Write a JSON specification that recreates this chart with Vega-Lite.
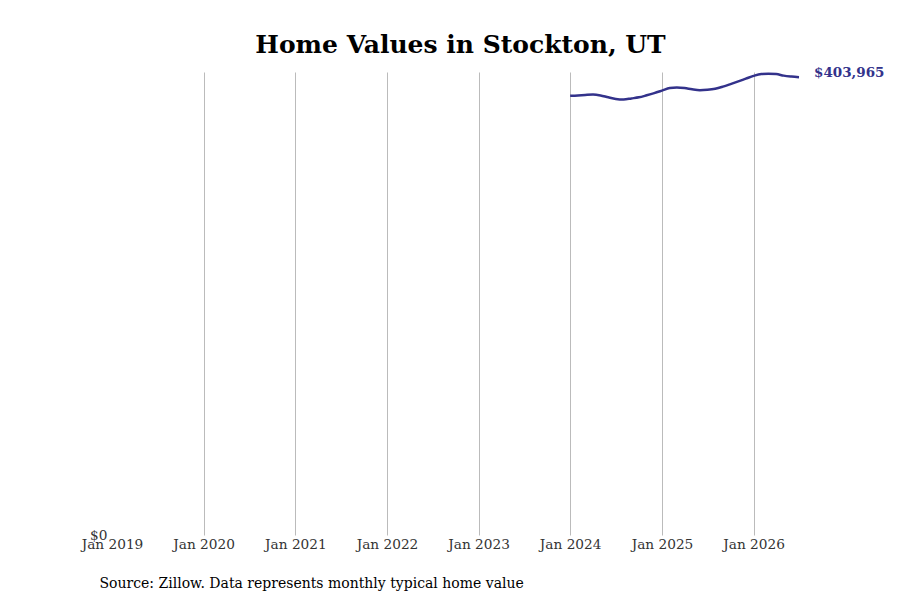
{
  "$schema": "https://vega.github.io/schema/vega-lite/v6.json",
  "autosize": "none",
  "width": 687,
  "height": 463,
  "padding": {"left": 112, "top": 72, "right": 101, "bottom": 65},
  "background": "white",
  "config": {
    "view": {"stroke": null},
    "font": "DejaVu Serif"
  },
  "title": {
    "text": "Home Values in Stockton, UT",
    "font": "DejaVu Serif",
    "fontSize": 25,
    "fontWeight": "bold",
    "color": "black",
    "anchor": "middle",
    "dx": 5,
    "offset": 8
  },
  "data": {
    "values": [
      {"date": "2024-01-01", "value": 387500},
      {"date": "2024-02-01", "value": 387850},
      {"date": "2024-03-01", "value": 388300},
      {"date": "2024-04-01", "value": 388650},
      {"date": "2024-05-01", "value": 387850},
      {"date": "2024-06-01", "value": 386150},
      {"date": "2024-07-01", "value": 384750},
      {"date": "2024-08-01", "value": 384300},
      {"date": "2024-09-01", "value": 385200},
      {"date": "2024-10-01", "value": 386150},
      {"date": "2024-11-01", "value": 387950},
      {"date": "2024-12-01", "value": 389850},
      {"date": "2025-01-01", "value": 392050},
      {"date": "2025-02-01", "value": 394300},
      {"date": "2025-03-01", "value": 394800},
      {"date": "2025-04-01", "value": 394300},
      {"date": "2025-05-01", "value": 393200},
      {"date": "2025-06-01", "value": 392500},
      {"date": "2025-07-01", "value": 392850},
      {"date": "2025-08-01", "value": 393750},
      {"date": "2025-09-01", "value": 395600},
      {"date": "2025-10-01", "value": 397800},
      {"date": "2025-11-01", "value": 400200},
      {"date": "2025-12-01", "value": 402600},
      {"date": "2026-01-01", "value": 405050},
      {"date": "2026-02-01", "value": 406650},
      {"date": "2026-03-01", "value": 406900},
      {"date": "2026-04-01", "value": 406650},
      {"date": "2026-05-01", "value": 405300},
      {"date": "2026-06-01", "value": 404500},
      {"date": "2026-07-01", "value": 403965}
    ]
  },
  "encoding": {
    "x": {
      "field": "date",
      "type": "temporal",
      "scale": {"domain": ["2019-01-01", "2026-07-01"], "nice": false},
      "axis": {
        "values": ["2019-01-01", "2020-01-01", "2021-01-01", "2022-01-01", "2023-01-01", "2024-01-01", "2025-01-01", "2026-01-01"],
        "format": "%b %Y",
        "labelFont": "DejaVu Serif",
        "labelFontSize": 13.7,
        "labelColor": "#333333",
        "labelPadding": 2,
        "labelFlush": false,
        "labelOverlap": false,
        "domain": false,
        "ticks": false,
        "grid": true,
        "gridColor": "#bbbbbb",
        "gridOpacity": {"condition": {"test": "year(datum.value) == 2019", "value": 0}, "value": 1},
        "title": "Source: Zillow. Data represents monthly typical home value",
        "titleFont": "DejaVu Serif",
        "titleFontSize": 14,
        "titleFontWeight": "normal",
        "titleColor": "black",
        "titleAnchor": "start",
        "titleAlign": "left",
        "titleX": -13,
        "titleY": 41
      }
    },
    "y": {
      "field": "value",
      "type": "quantitative",
      "scale": {"domain": [0, 408500], "nice": false},
      "axis": {
        "values": [0],
        "format": "$,.0f",
        "labelFont": "DejaVu Serif",
        "labelFontSize": 13.7,
        "labelColor": "#333333",
        "labelPadding": 5,
        "labelBaseline": "middle",
        "domain": false,
        "ticks": false,
        "grid": false,
        "title": null
      }
    }
  },
  "layer": [
    {
      "mark": {"type": "line", "color": "#33328b", "strokeWidth": 2.5, "interpolate": "monotone"}
    },
    {
      "transform": [{"filter": "datum.value == 403965"}],
      "mark": {
        "type": "text",
        "align": "left",
        "baseline": "middle",
        "dx": 15,
        "dy": -4,
        "font": "DejaVu Serif",
        "fontSize": 13.5,
        "fontWeight": "bold",
        "color": "#33328b"
      },
      "encoding": {
        "text": {"field": "value", "type": "quantitative", "format": "$,.0f"}
      }
    }
  ]
}
